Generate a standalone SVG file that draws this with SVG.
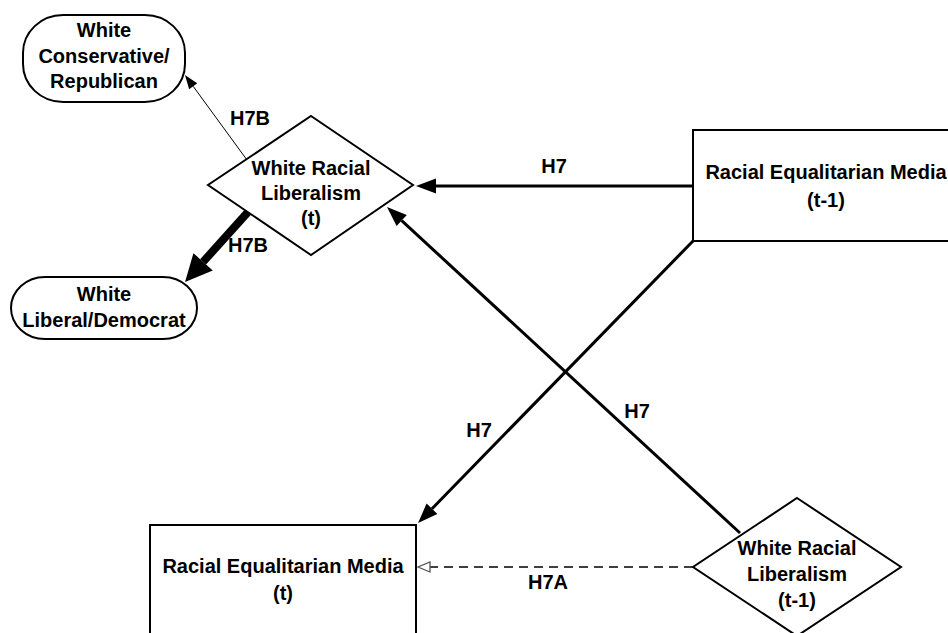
<svg xmlns="http://www.w3.org/2000/svg" width="948" height="633" viewBox="0 0 948 633">
  <style>
    .shape { fill: #ffffff; stroke: #000000; stroke-width: 2; }
    .lbl { font-family: "Liberation Sans", Arial, sans-serif; font-weight: bold; font-size: 20px; fill: #000000; text-anchor: middle; }
    .edge { fill: none; stroke: #000000; }
  </style>
  <defs>
    <marker id="arrow" markerUnits="userSpaceOnUse" orient="auto" refX="0" refY="0" markerWidth="22" markerHeight="16" overflow="visible">
      <path d="M0,-7.5 L20,0 L0,7.5 z" fill="#000000"/>
    </marker>
    <marker id="arrow-thin" markerUnits="userSpaceOnUse" orient="auto" refX="0" refY="0" markerWidth="16" markerHeight="12" overflow="visible">
      <path d="M0,-5 L14,0 L0,5 z" fill="#000000"/>
    </marker>
    <marker id="arrow-thick" markerUnits="userSpaceOnUse" orient="auto" refX="0" refY="0" markerWidth="30" markerHeight="28" overflow="visible">
      <path d="M0,-13 L27,0 L0,13 z" fill="#000000"/>
    </marker>
    <marker id="arrow-open" markerUnits="userSpaceOnUse" orient="auto" refX="0" refY="0" markerWidth="14" markerHeight="12" overflow="visible">
      <path d="M0,-5 L12,0 L0,5 z" fill="#ffffff" stroke="#555555" stroke-width="1.3"/>
    </marker>
  </defs>

  <rect width="948" height="633" fill="#ffffff"/>

  <g id="connectors">
    <!-- H7B to conservative -->
    <line class="edge" x1="247" y1="160" x2="193.2" y2="86.3" stroke-width="1" marker-end="url(#arrow-thin)"/>
    <!-- H7B to liberal -->
    <line class="edge" x1="248" y1="212" x2="203.1" y2="261.9" stroke-width="8" marker-end="url(#arrow-thick)"/>
    <!-- H7 horizontal -->
    <line class="edge" x1="693" y1="186" x2="436" y2="186" stroke-width="3" marker-end="url(#arrow)"/>
    <!-- H7 media(t-1) to media(t) -->
    <line class="edge" x1="693" y1="241" x2="432" y2="508.7" stroke-width="3" marker-end="url(#arrow)"/>
    <!-- H7 liberalism(t-1) to liberalism(t) -->
    <line class="edge" x1="740" y1="533" x2="401.7" y2="220.6" stroke-width="3" marker-end="url(#arrow)"/>
    <!-- H7A dashed -->
    <line class="edge" x1="693" y1="567" x2="430" y2="567" stroke="#555555" stroke-width="1.5" stroke-dasharray="9,6" marker-end="url(#arrow-open)"/>

    <text class="lbl" x="250" y="125">H7B</text>
    <text class="lbl" x="248" y="252">H7B</text>
    <text class="lbl" x="554" y="173">H7</text>
    <text class="lbl" x="479" y="437">H7</text>
    <text class="lbl" x="637" y="418">H7</text>
    <text class="lbl" x="548" y="589">H7A</text>
  </g>

  <g id="white-conservative">
    <rect class="shape" x="23" y="15" width="162" height="87" rx="40" ry="38"/>
    <text class="lbl" x="104" y="37">White</text>
    <text class="lbl" x="104" y="63">Conservative/</text>
    <text class="lbl" x="104" y="88">Republican</text>
  </g>

  <g id="white-liberal">
    <rect class="shape" x="11" y="277" width="186" height="62" rx="34" ry="31"/>
    <text class="lbl" x="104" y="301">White</text>
    <text class="lbl" x="104" y="327">Liberal/Democrat</text>
  </g>

  <g id="liberalism-t">
    <polygon class="shape" points="311,116 413,185 311,255 208,185"/>
    <text class="lbl" x="311" y="175">White Racial</text>
    <text class="lbl" x="311" y="200">Liberalism</text>
    <text class="lbl" x="311" y="225">(t)</text>
  </g>

  <g id="media-t-1">
    <rect class="shape" x="693" y="130" width="266" height="111"/>
    <text class="lbl" x="826" y="179">Racial Equalitarian Media</text>
    <text class="lbl" x="826" y="207">(t-1)</text>
  </g>

  <g id="media-t">
    <rect class="shape" x="150" y="525" width="266" height="111"/>
    <text class="lbl" x="283" y="573">Racial Equalitarian Media</text>
    <text class="lbl" x="283" y="600">(t)</text>
  </g>

  <g id="liberalism-t-1">
    <polygon class="shape" points="797,498 901,567 797,636 693,567"/>
    <text class="lbl" x="797" y="555">White Racial</text>
    <text class="lbl" x="797" y="581">Liberalism</text>
    <text class="lbl" x="797" y="607">(t-1)</text>
  </g>
</svg>
